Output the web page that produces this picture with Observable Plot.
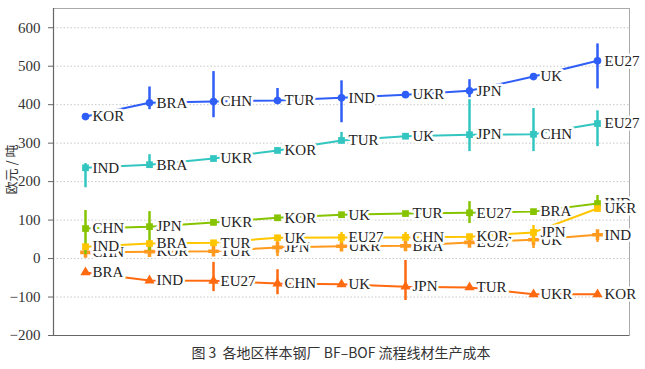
<!DOCTYPE html>
<html>
<head>
<meta charset="utf-8">
<script src="https://cdn.jsdelivr.net/npm/d3@7"></script>
<script src="https://cdn.jsdelivr.net/npm/@observablehq/plot@0.6"></script>
<style>
  body { margin: 0; background: #fff; }
  #cap { width: 645px; box-sizing: border-box; padding-left: 53px; padding-right: 16px; text-align: center;
         font-family: "Noto Sans CJK SC", "Noto Sans", sans-serif; font-size: 14px; color: #333; line-height: 20px; margin-top: 2px; }
</style>
</head>
<body>
<div id="chart"></div>
<div id="cap">图 3&nbsp;&nbsp;各地区样本钢厂 BF–BOF 流程线材生产成本</div>
<script>
const yTicks = [-200, -100, 0, 100, 200, 300, 400, 500, 600];
const yLabel = "欧元 / 吨";

const seriesNames = ["blue", "teal", "darkOrange", "lightOrange", "green", "yellow"];
const seriesColors = ["#2f5ef6", "#33c6c0", "#ff6a10", "#ff9a1f", "#86c400", "#ffc600"];
const seriesSymbols = ["circle", "square", "triangle", "cross", "square", "square"];

const blueLabels = ["KOR", "BRA", "CHN", "TUR", "IND", "UKR", "JPN", "UK", "EU27"];
const blueValues = [369, 405, 408, 411, 418, 426, 436, 473, 514];
const blueLow    = [null, 387, 366, 400, 353, null, 418, null, 441];
const blueHigh   = [null, 446, 486, 442, 462, null, 465, null, 558];

const tealLabels = ["IND", "BRA", "UKR", "KOR", "TUR", "UK", "JPN", "CHN", "EU27"];
const tealValues = [236, 244, 260, 281, 307, 318, 322, 323, 351];
const tealLow    = [184, 234, null, null, 305, null, 278, 278, 291];
const tealHigh   = [247, 270, null, null, 328, null, 413, 390, 384];

const darkOrangeLabels = ["BRA", "IND", "EU27", "CHN", "UK", "JPN", "TUR", "UKR", "KOR"];
const darkOrangeValues = [-36, -57, -58, -65, -67, -73, -75, -93, -93];
const darkOrangeLow    = [null, null, -86, -94, null, -109, null, null, null];
const darkOrangeHigh   = [null, null, -10, -29, null, -5, null, null, null];

const lightOrangeLabels = ["CHN", "KOR", "TUR", "JPN", "UKR", "BRA", "EU27", "UK", "IND"];
const lightOrangeValues = [16, 18, 19, 29, 32, 33, 42, 49, 62];
const lightOrangeLow    = [null, null, null, 5, null, 26, 32, 26, 42];
const lightOrangeHigh   = [null, null, null, 47, null, 40, 52, 60, 73];

const greenLabels = ["CHN", "JPN", "UKR", "KOR", "UK", "TUR", "EU27", "BRA", "IND"];
const greenValues = [78, 83, 94, 106, 114, 117, 119, 122, 143];
const greenLow    = [10, 20, null, null, null, null, 91, null, 132];
const greenHigh   = [125, 122, null, null, null, null, 148, null, 164];

const yellowLabels = ["IND", "BRA", "TUR", "UK", "EU27", "CHN", "KOR", "JPN", "UKR"];
const yellowValues = [31, 39, 41, 54, 55, 55, 57, 68, 130];
const yellowLow    = [null, null, null, null, 39, 47, null, 42, null];
const yellowHigh   = [null, null, null, null, 68, 68, null, 86, null];

const src = {
  blue: [blueLabels, blueValues, blueLow, blueHigh],
  teal: [tealLabels, tealValues, tealLow, tealHigh],
  darkOrange: [darkOrangeLabels, darkOrangeValues, darkOrangeLow, darkOrangeHigh],
  lightOrange: [lightOrangeLabels, lightOrangeValues, lightOrangeLow, lightOrangeHigh],
  green: [greenLabels, greenValues, greenLow, greenHigh],
  yellow: [yellowLabels, yellowValues, yellowLow, yellowHigh]
};

const serif = "'Liberation Serif', 'DejaVu Serif', serif";
const marks = [
  Plot.gridY(yTicks.filter(d => d > -200), {stroke: "#c8c8c8", strokeOpacity: 1, strokeDasharray: "1.5,2"}),
  Plot.frame({stroke: "#aaa"}),
  Plot.axisY(yTicks, {
    tickSize: 5, tickPadding: 8, fontSize: 15, fontFamily: serif, fill: "#333", stroke: "#666",
    tickFormat: d => d < 0 ? "\u2212" + Math.abs(d) : String(d), label: null
  }),
  Plot.ruleX([-0.5], {stroke: "#666", strokeWidth: 1.2}),
  Plot.ruleY([-200], {stroke: "#666", strokeWidth: 1.2}),
  Plot.text([yLabel], {frameAnchor: "left", textAnchor: "middle", lineAnchor: "middle", rotate: -90,
    fontSize: 13, fontFamily: "'Noto Sans CJK SC', sans-serif", fill: "#333",
    render: (index, scales, values, dimensions, context, next) => {
      const g = next(index, scales, values, dimensions, context);
      g.setAttribute("transform", "translate(-41,-2)");
      return g;
    }})
];

seriesNames.forEach((name, k) => {
  const [labels, values, lo, hi] = src[name];
  const rows = labels.map((label, i) => ({i, label, value: values[i], lo: lo[i], hi: hi[i]}));
  const color = seriesColors[k];
  marks.push(
    Plot.line(rows, {x: "i", y: "value", stroke: color, strokeWidth: 2}),
    Plot.ruleX(rows.filter(d => d.lo != null), {x: "i", y1: "lo", y2: "hi", stroke: color, strokeWidth: 2.5}),
    Plot.dot(rows, {x: "i", y: "value", fill: color, stroke: "none", symbol: () => seriesSymbols[k], r: seriesSymbols[k] === "cross" ? 4.5 : 3.8}),
    Plot.text(rows, {x: "i", y: "value", text: "label", dx: 7, textAnchor: "start", fontSize: 15,
      fontFamily: serif, fill: "#222", stroke: "white", strokeWidth: 5})
  );
});

const chart = Plot.plot({
  width: 645,
  height: 340,
  marginLeft: 53,
  marginRight: 16,
  marginTop: 8,
  marginBottom: 5,
  x: {type: "linear", domain: [-0.5, 8.5], axis: null},
  y: {domain: [-200, 650], axis: null},
  symbol: {type: "identity"},
  style: {background: "white", overflow: "visible"},
  marks
});
document.getElementById("chart").appendChild(chart);
</script>
</body>
</html>
